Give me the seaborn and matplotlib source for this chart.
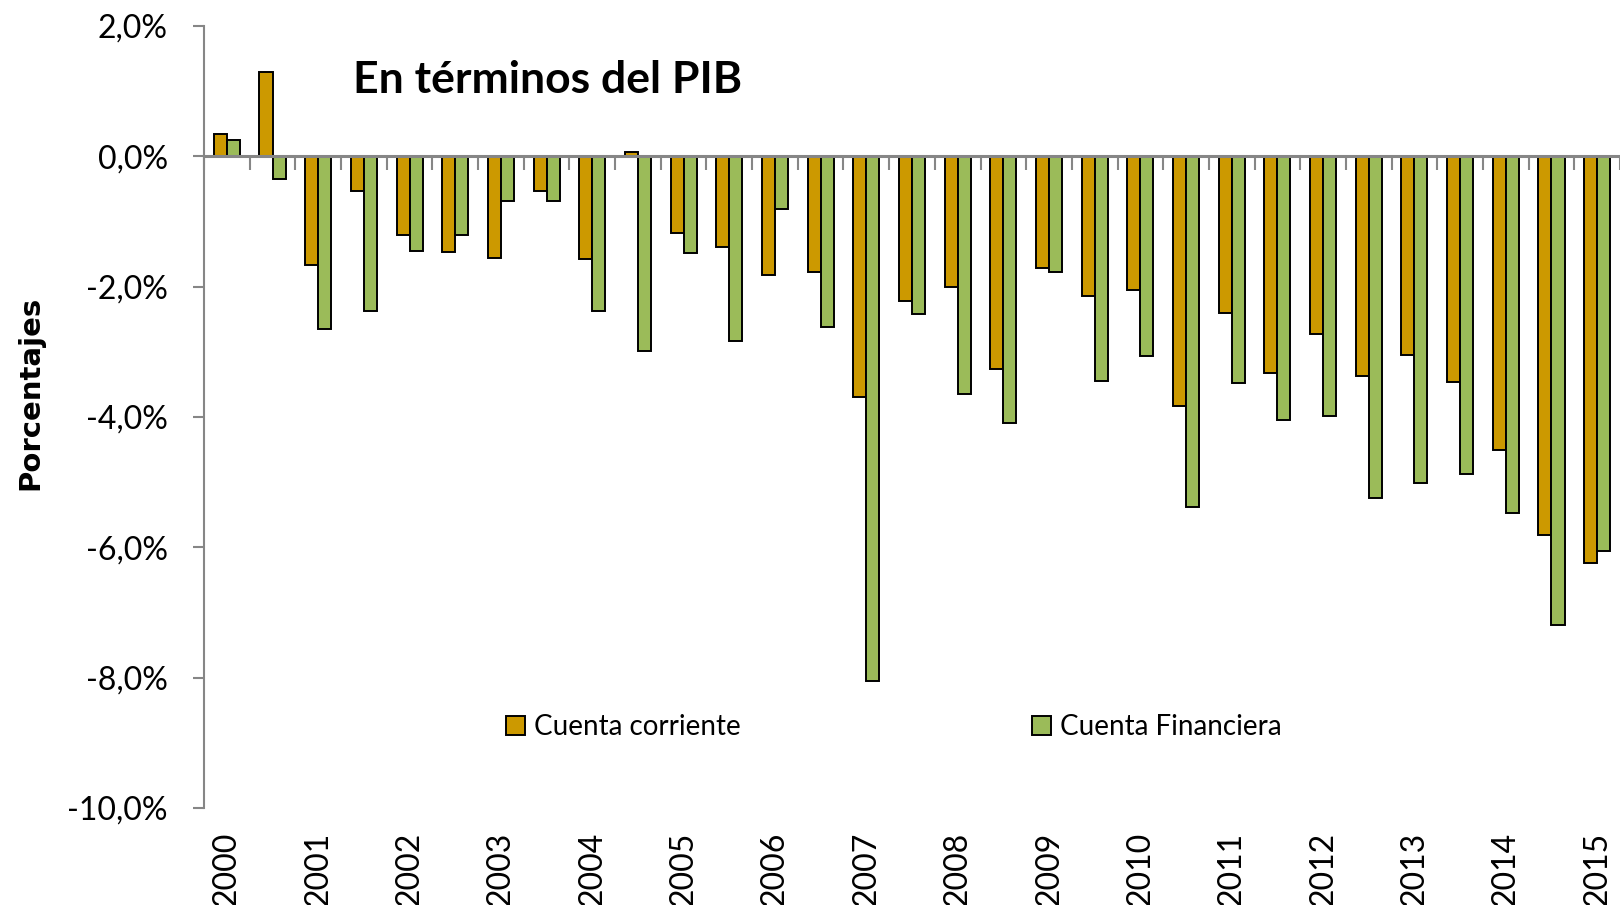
import numpy as np
import pandas as pd
import matplotlib
matplotlib.use("Agg")
import matplotlib.pyplot as plt
import seaborn as sns

# ---- data ----
anos = [str(a) for a in range(2000, 2016)]
periodos = [f"{a}-{s}" for a in range(2000, 2015) for s in ("I", "II")] + ["2015-I"]
cuenta_corriente = [0.34, 1.29, -1.66, -0.53, -1.20, -1.47, -1.56, -0.53, -1.57, 0.07,
                    -1.18, -1.39, -1.82, -1.77, -3.70, -2.22, -2.01, -3.26, -1.72, -2.15,
                    -2.05, -3.83, -2.40, -3.33, -2.73, -3.37, -3.05, -3.46, -4.50, -5.81,
                    -6.24]
cuenta_financiera = [0.25, -0.35, -2.65, -2.37, -1.46, -1.21, -0.69, -0.69, -2.37, -2.99,
                     -1.48, -2.83, -0.81, -2.62, -8.05, -2.42, -3.65, -4.09, -1.78, -3.44,
                     -3.07, -5.38, -3.48, -4.04, -3.98, -5.25, -5.02, -4.87, -5.48, -7.19,
                     -6.05]
series = ["Cuenta corriente", "Cuenta Financiera"]
y_ticks = [2, 0, -2, -4, -6, -8, -10]

df = pd.DataFrame({
    "periodo": periodos * 2,
    "valor": cuenta_corriente + cuenta_financiera,
    "serie": [series[0]] * len(periodos) + [series[1]] * len(periodos),
})

sns.set_theme(style="white")
plt.rcParams["font.family"] = ["Lato", "DejaVu Sans"]
plt.rcParams["text.color"] = "black"
plt.rcParams["axes.labelcolor"] = "black"

W, H = 1620, 905
fig = plt.figure(figsize=(W / 100, H / 100), dpi=100)
left, right, top, bottom = 204, 1620, 26, 808
ax = fig.add_axes([left / W, 1 - bottom / H, (right - left) / W, (bottom - top) / H])

orange = "#CC9900"
green = "#9BBB59"
gray = "#868686"

sns.barplot(data=df, x="periodo", y="valor", hue="serie", order=periodos,
            hue_order=series, palette=[orange, green], width=0.57,
            edgecolor="black", linewidth=1.4, saturation=1, ax=ax)

ax.set_ylim(-10, 2)
ax.set_xlim(-0.5, (right - left) / 46 - 0.5)

# y axis
ax.set_yticks(y_ticks)
ax.set_yticklabels([f"{v:.1f}%".replace(".", ",") for v in y_ticks], fontsize=23)
ax.tick_params(axis="y", left=True, length=8, width=1.5, color=gray, pad=18,
               labelcolor="black")
ax.spines["left"].set_color(gray)
ax.spines["left"].set_linewidth(1.5)
ax.spines["right"].set_visible(False)
ax.spines["bottom"].set_visible(False)

# zero line with hanging ticks
ax.spines["top"].set_position(("data", 0))
ax.spines["top"].set_color(gray)
ax.spines["top"].set_linewidth(2.2)
ax.spines["top"].set_zorder(5)

ax.set_xticks(list(range(0, len(periodos), 2)))
ax.set_xticklabels(anos, rotation=90, fontsize=23)
ax.set_xticks(np.arange(-0.5, len(periodos), 1), minor=True)
ax.tick_params(axis="x", which="major", bottom=True, top=False, length=0, pad=17,
               labelcolor="black")
ax.tick_params(axis="x", which="minor", bottom=False, top=True, direction="in",
               length=10, width=1.5, color=gray)
ax.set_xlabel("")

ax.set_ylabel("Porcentajes", fontsize=21, fontweight="bold", color="black",
              family=["Liberation Sans Narrow", "DejaVu Sans"])
ax.yaxis.set_label_coords((44 - left) / (right - left), (bottom - 393) / (bottom - top))

ax.text((353 - left) / (right - left), (bottom - 80) / (bottom - top),
        "En términos del PIB", transform=ax.transAxes, ha="left", va="center",
        fontsize=32, fontweight="bold", color="black")

handles, labels = ax.get_legend_handles_labels()
leg = ax.legend(handles, labels, ncol=2, loc="center", bbox_to_anchor=(0.487, 0.103),
                frameon=False, fontsize=20, handlelength=0.7, handleheight=0.7,
                handletextpad=0.3, columnspacing=10.5)
for t in leg.get_texts():
    t.set_color("black")

fig.savefig("out.png", dpi=100)
